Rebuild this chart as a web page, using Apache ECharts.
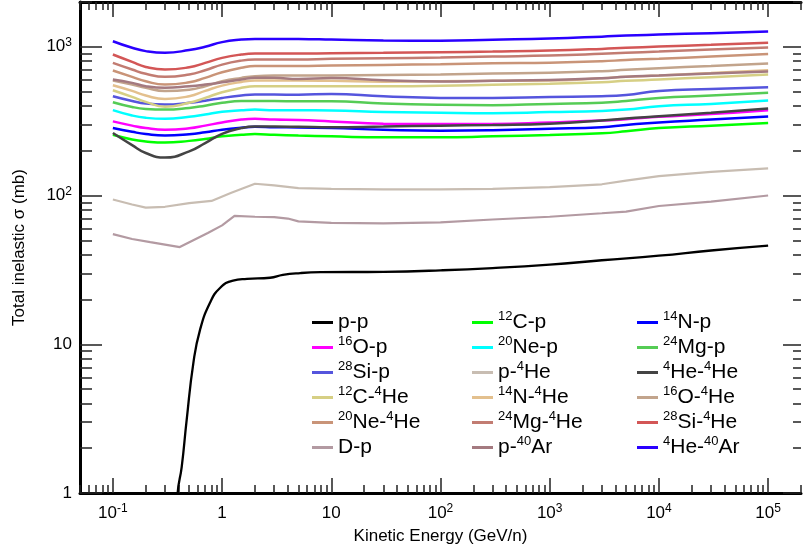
<!DOCTYPE html>
<html>
<head>
<meta charset="utf-8">
<script src="https://cdn.jsdelivr.net/npm/echarts@6/dist/echarts.min.js"></script>
<style>
  html, body { margin: 0; padding: 0; background: #fff; }
  #chart { width: 803px; height: 550px; }
</style>
</head>
<body>
<div id="chart"></div>
<script>
// kinetic energy grid (GeV/n) used by the nucleus curves
const energyGrid = [0.1, 0.15, 0.2, 0.3, 0.5, 0.7, 1, 1.5, 2, 3, 5, 10, 30, 100, 300, 1000, 3000, 5000, 1e4, 3e4, 1e5];

// total inelastic cross sections (mb)
const he4Ar40 = [1090, 985, 935, 912, 950, 1000, 1075, 1118, 1130, 1130, 1128, 1118, 1100, 1098, 1115, 1136, 1170, 1190, 1208, 1235, 1265];
const si28He4 = [887, 791, 732, 703, 728, 779, 842, 887, 900, 900, 900, 905, 910, 918, 928, 943, 968, 985, 1003, 1030, 1063];
const mg24He4 = [779, 703, 658, 628, 651, 695, 759, 807, 820, 820, 820, 830, 838, 846, 860, 873, 897, 912, 928, 958, 988];
const ne20He4 = [692, 628, 586, 557, 577, 618, 674, 722, 742, 742, 742, 747, 755, 763, 775, 782, 799, 815, 830, 860, 893];
const o16He4 = [593, 557, 530, 505, 515, 543, 586, 618, 634, 640, 640, 642, 647, 651, 660, 668, 685, 700, 718, 742, 771];
const pAr40 = [602, 572, 543, 530, 543, 557, 577, 602, 618, 618, 608, 616, 595, 584, 590, 598, 614, 628, 640, 661, 681];
const n14He4 = [551, 505, 470, 446, 465, 505, 548, 580, 593, 593, 593, 590, 583, 586, 590, 593, 614, 628, 640, 667, 695];
const c12He4 = [510, 460, 426, 395, 420, 453, 495, 530, 543, 543, 543, 543, 543, 546, 555, 565, 577, 590, 602, 625, 651];
const si28p = [465, 432, 415, 409, 420, 434, 453, 470, 477, 477, 476, 482, 465, 453, 453, 460, 465, 474, 504, 520, 534];
const mg24p = [424, 394, 382, 378, 388, 402, 420, 432, 432, 432, 430, 430, 415, 407, 405, 413, 420, 432, 453, 470, 491];
const ne20p = [375, 345, 333, 328, 338, 351, 366, 374, 378, 374, 374, 373, 364, 360, 358, 364, 370, 378, 398, 413, 435];
const o16p = [315, 295, 284, 277, 283, 295, 310, 324, 328, 324, 322, 315, 304, 303, 303, 310, 319, 326, 338, 353, 375];
const n14p = [284, 268, 259, 253, 258, 266, 277, 286, 290, 288, 287, 284, 277, 273, 275, 281, 288, 298, 310, 324, 340];
const he4He4 = [263, 218, 193, 180, 198, 225, 260, 284, 291, 291, 290, 288, 291, 295, 298, 304, 319, 330, 341, 360, 384];
const c12p = [256, 238, 231, 227, 233, 240, 250, 256, 259, 256, 253, 250, 246, 246, 250, 255, 262, 270, 284, 295, 307];

// light systems have their own energy points
const pHeEnergy = [0.1, 0.15, 0.2, 0.3, 0.5, 0.8, 1.2, 2, 3, 5, 10, 30, 100, 300, 1000, 3000, 5000, 1e4, 3e4, 1e5];
const pHeSigma = [94, 87, 83, 84, 89, 92, 104, 120, 117, 112, 111, 110, 110, 111, 114, 119, 126, 135, 144, 152];
const dpEnergy = [0.1, 0.15, 0.22, 0.41, 0.74, 1, 1.3, 2, 3, 4, 5, 10, 30, 100, 300, 1000, 3000, 5000, 1e4, 3e4, 1e5];
const dpSigma = [55, 51, 48.6, 45, 56, 63, 73, 72, 71.5, 70, 67, 65.5, 65, 66, 69, 72, 76, 78, 85, 91, 100];
const ppEnergy = [0.385, 0.392, 0.427, 0.474, 0.546, 0.628, 0.775, 0.957, 1.26, 1.69, 2.75, 3.6, 5.2, 8, 30, 100, 300, 1000, 3000, 1e4, 3e4, 1e5];
const ppSigma = [0.7, 1, 1.5, 3.1, 7.5, 12.5, 19, 23.9, 26.8, 27.5, 28, 29.3, 30.1, 30.5, 30.7, 31.4, 32.5, 34.3, 36.7, 39.4, 42.7, 46];

// tick labels
const xTickLabels = [0.1, 1, 10, 100, 1000, 10000, 100000];
const yTickLabels = [1, 10, 100, 1000];

// legend columns (row-major reading gives the original order)
const legendCols = [
  ["p-p", "16O-p", "28Si-p", "12C-4He", "20Ne-4He", "D-p"],
  ["12C-p", "20Ne-p", "p-4He", "14N-4He", "24Mg-4He", "p-40Ar"],
  ["14N-p", "24Mg-p", "4He-4He", "16O-4He", "28Si-4He", "4He-40Ar"],
];
const legendLeft = [312, 472, 637];

const curves = [
  { name: "p-p", color: "#000000", x: ppEnergy, y: ppSigma, width: 2.3 },
  { name: "12C-p", color: "#00ff00", x: energyGrid, y: c12p },
  { name: "14N-p", color: "#0000ff", x: energyGrid, y: n14p },
  { name: "16O-p", color: "#ff00ff", x: energyGrid, y: o16p },
  { name: "20Ne-p", color: "#00ffff", x: energyGrid, y: ne20p },
  { name: "24Mg-p", color: "#55cc55", x: energyGrid, y: mg24p },
  { name: "28Si-p", color: "#5555dd", x: energyGrid, y: si28p },
  { name: "p-4He", color: "#c8bdb2", x: pHeEnergy, y: pHeSigma, width: 2.2, smooth: false },
  { name: "4He-4He", color: "#444444", x: energyGrid, y: he4He4 },
  { name: "12C-4He", color: "#d6cf84", x: energyGrid, y: c12He4 },
  { name: "14N-4He", color: "#e3c08e", x: energyGrid, y: n14He4 },
  { name: "16O-4He", color: "#c2a48c", x: energyGrid, y: o16He4 },
  { name: "20Ne-4He", color: "#c99478", x: energyGrid, y: ne20He4 },
  { name: "24Mg-4He", color: "#c27c72", x: energyGrid, y: mg24He4 },
  { name: "28Si-4He", color: "#d35656", x: energyGrid, y: si28He4 },
  { name: "D-p", color: "#b39aa2", x: dpEnergy, y: dpSigma, width: 2.2, smooth: false },
  { name: "p-40Ar", color: "#a47a80", x: energyGrid, y: pAr40 },
  { name: "4He-40Ar", color: "#2a00ff", x: energyGrid, y: he4Ar40 },
];

function minorTicks(lo, hi) {
  const out = [];
  for (let d = -2; d <= 5; d++) {
    for (let k = 2; k <= 9; k++) {
      const v = k * Math.pow(10, d);
      if (v >= lo && v <= hi) out.push(v);
    }
  }
  return out;
}

const font = "Liberation Sans, Arial, sans-serif";
const tickColor = "#222";

function powerLabel(v) {
  const e = Math.round(Math.log10(v));
  if (e === 0) return "1";
  if (e === 1) return "10";
  return "10{sup|" + e + "}";
}
const labelRich = {
  sup: { fontSize: 12, lineHeight: 8, verticalAlign: "top", fontFamily: font, color: "#000" },
};

function markup(name) {
  return name.replace(/(^|-)(\d+)/g, "$1{sup|$2}");
}

function tickAxis(min, max, position, values, len, lineW, showLine) {
  return {
    type: "log",
    logBase: 10,
    min: min,
    max: max,
    position: position,
    splitLine: { show: false },
    axisLabel: { show: false },
    axisLine: { show: showLine, onZero: false, lineStyle: { color: "#000", width: lineW } },
    axisTick: { show: true, inside: true, length: len, customValues: values, lineStyle: { color: tickColor, width: 1.5 } },
  };
}

var myChart = echarts.init(document.getElementById("chart"), null, { renderer: "canvas" });

const xMinor = minorTicks(0.05, 2e5);
const yMinor = minorTicks(1, 2000);

const xMain = tickAxis(0.05, 2e5, "bottom", xTickLabels, 15, 3, true);
xMain.axisLabel = {
  show: true, customValues: xTickLabels, formatter: powerLabel, margin: 10,
  fontSize: 17, lineHeight: 20, fontFamily: font, color: "#000", rich: labelRich,
};
xMain.name = "Kinetic Energy (GeV/n)";
xMain.nameLocation = "middle";
xMain.nameGap = 28;
xMain.nameTextStyle = { fontSize: 17, fontFamily: font, color: "#000" };

const yMain = tickAxis(1, 2000, "left", yTickLabels, 22, 3, true);
yMain.axisLabel = {
  show: true, customValues: yTickLabels, formatter: powerLabel, margin: 8,
  fontSize: 17, lineHeight: 20, fontFamily: font, color: "#000", rich: labelRich,
};
yMain.name = "Total inelastic σ (mb)";
yMain.nameLocation = "middle";
yMain.nameGap = 52;
yMain.nameTextStyle = { fontSize: 17, fontFamily: font, color: "#000" };

const series = curves.map(function (c) {
  return {
    name: c.name,
    type: "line",
    xAxisIndex: 0,
    yAxisIndex: 0,
    data: c.x.map(function (e, i) { return [e, c.y[i]]; }),
    smooth: c.smooth === false ? false : 0.5,
    symbol: "none",
    color: c.color,
    lineStyle: { color: c.color, width: c.width || 2.5 },
    z: 3,
  };
});

const legends = legendCols.map(function (col, i) {
  return {
    orient: "vertical",
    left: legendLeft[i],
    top: 310,
    padding: 0,
    itemGap: 0,
    icon: "rect",
    itemWidth: 21,
    itemHeight: 3,
    selectedMode: false,
    data: col,
    formatter: markup,
    textStyle: {
      fontSize: 21, lineHeight: 25, fontFamily: font, color: "#000",
      rich: { sup: { fontSize: 13, lineHeight: 10, verticalAlign: "top", fontFamily: font, color: "#000" } },
    },
  };
});

var option = {
  animation: false,
  backgroundColor: "#fff",
  grid: { left: 80, right: 2, top: 2, bottom: 57, containLabel: false, outerBoundsMode: "none" },
  legend: legends,
  xAxis: [
    xMain,
    tickAxis(0.05, 2e5, "bottom", xMinor, 8, 0, false),
    tickAxis(0.05, 2e5, "top", xTickLabels, 15, 3, true),
    tickAxis(0.05, 2e5, "top", xMinor, 8, 0, false),
  ],
  yAxis: [
    yMain,
    tickAxis(1, 2000, "left", yMinor, 12, 0, false),
    tickAxis(1, 2000, "right", yTickLabels, 18, 0, false),
    tickAxis(1, 2000, "right", yMinor, 8, 0, false),
  ],
  series: series,
};

myChart.setOption(option);
window.addEventListener("resize", function () {
  myChart.resize();
});
</script>
</body>
</html>
